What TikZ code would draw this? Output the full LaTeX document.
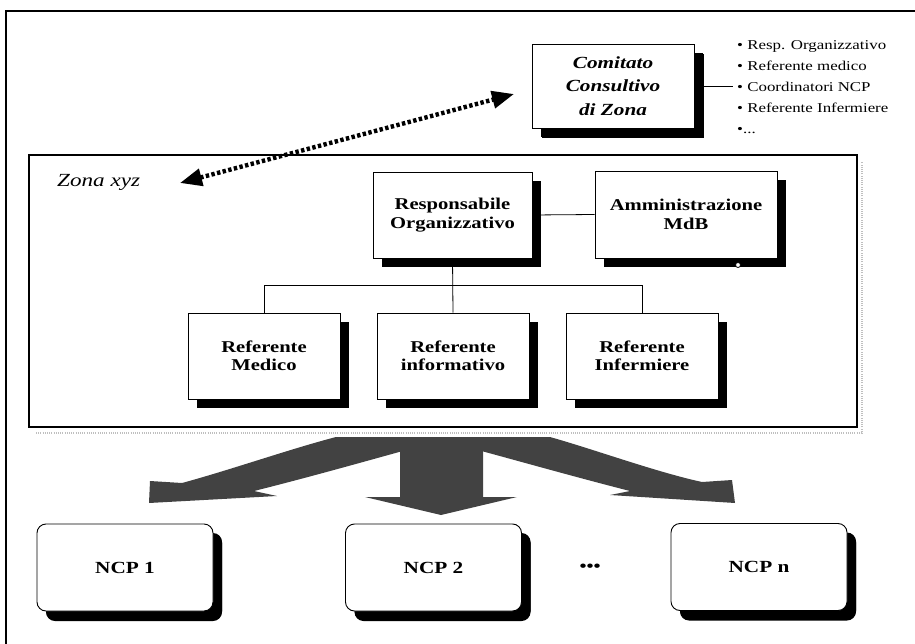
\documentclass[tikz,border=0pt]{standalone}
\usepackage{fontspec}
\setmainfont{Liberation Serif}[FakeStretch=1.25]
\newfontfamily\comfont{Liberation Serif Bold Italic}[FakeStretch=1.25]
\usetikzlibrary{arrows.meta,shadows}

\begin{document}
\begin{tikzpicture}[x=1pt,y=-1pt,
  outline/.style={line width=1.1pt},
  boxshadow/.style={drop shadow={shadow xshift=9pt,shadow yshift=-9pt,fill=black,opacity=1}},
  orgbox/.style={draw,fill=white,line width=0.9pt,align=center,inner sep=2pt,
    font=\fontsize{16.5}{18.5}\selectfont\bfseries,boxshadow},
  unitbox/.style={orgbox,rounded corners=9pt,minimum width=176pt,minimum height=87pt,
    font=\fontsize{17}{19}\selectfont\bfseries,
    drop shadow={shadow xshift=9pt,shadow yshift=-10pt,fill=black,opacity=1}},
  bigarrow/.style={fill=black!74},
  link/.style={line width=0.8pt},
  dottedarrow/.style={line width=4.4pt,dash pattern=on 3.4pt off 2.4pt,
    {Triangle[length=22pt,width=17pt]}-{Triangle[length=22pt,width=17pt]}}
]
\useasboundingbox (0,0) rectangle (915,644);

% outer frame, open on the right and at the bottom
\draw[outline] (915,11) -- (6,11) -- (6,644);

% advisory committee and its members
\node[orgbox,font=\fontsize{17}{23.5}\comfont,
      minimum width=162pt,minimum height=84pt,
      drop shadow={shadow xshift=10pt,shadow yshift=-10pt,fill=black,opacity=1}]
  (com) at (613,86) {Comitato\\Consultivo\\di Zona};
\node[anchor=west,align=left,inner sep=0pt,font=\fontsize{13.5}{21}\selectfont]
  (members) at (737,87) {• Resp. Organizzativo\\• Referente medico\\• Coordinatori NCP\\• Referente Infermiere\\•...};
\coordinate (membersin) at (733,86);
\draw[link] (com.east) -- (membersin);

% zone frame with its faint shadow
\draw[gray!50,line width=2.4pt,dash pattern=on 1pt off 1.2pt] (36,433) -- (862,433) -- (862,162);
\node[draw,line width=1.1pt,minimum width=828pt,minimum height=272pt,inner sep=0pt]
  (zona) at (443,291) {};
\node[anchor=west,font=\fontsize{18.5}{20}\selectfont\itshape,inner sep=0pt]
  (zonalbl) at (57,182) {Zona xyz};

% link between zone and committee
\coordinate (zonaend) at (180,183);
\coordinate (comend) at (514,94);
\draw[dottedarrow] (zonaend) -- (comend);

% zone organisation
\node[orgbox,minimum width=159pt,minimum height=86pt] (resp) at (452.5,215) {Responsabile\\Organizzativo};
\node[orgbox,minimum width=182pt,minimum height=87pt] (amm) at (686,214.5) {Amministrazione\\MdB};
\draw[link] (resp.east) -- (amm.west);
\node[circle,draw,fill=white,inner sep=0pt,minimum size=5pt,line width=0.8pt] (ammdot) at (738,265) {};

\node[orgbox,minimum width=152pt,minimum height=86pt] (med) at (264,356) {Referente\\Medico};
\node[orgbox,minimum width=152pt,minimum height=86pt] (info) at (453,356) {Referente\\informativo};
\node[orgbox,minimum width=152pt,minimum height=86pt] (infe) at (642,356) {Referente\\Infermiere};

\coordinate (bus) at (453,285);
\draw[link] (resp.south) -- (info.north);
\draw[link] (med.north) -- (med.north |- bus) -- (infe.north |- bus) -- (infe.north);

% broad arrows from the zone to the primary care units
\fill[bigarrow] (336,437) .. controls (290,449) and (230,470) .. (182,483)
  -- (150,481) -- (149,503) -- (277,496) -- (254,491)
  .. controls (310,477) and (370,460) .. (410,449) -- (410,437) -- cycle;
\fill[bigarrow] (550,437) .. controls (596,450) and (656,472) .. (702,482)
  -- (732,480) -- (735,503) -- (610,495) -- (630,491)
  .. controls (575,477) and (515,460) .. (474,449) -- (474,437) -- cycle;
\fill[bigarrow] (400,437) -- (400,497) -- (365,497) -- (441,515) -- (517,497)
  -- (483,497) -- (483,437) -- cycle;

% primary care units
\node[unitbox] (ncpa) at (125,567.5) {NCP 1};
\node[unitbox] (ncpb) at (433.5,567.5) {NCP 2};
\node[unitbox] (ncpn) at (759,567) {NCP n};
\node[font=\fontsize{16}{16}\selectfont\bfseries,inner sep=0pt] (more) at (590,568) {•••};
\end{tikzpicture}
\end{document}
